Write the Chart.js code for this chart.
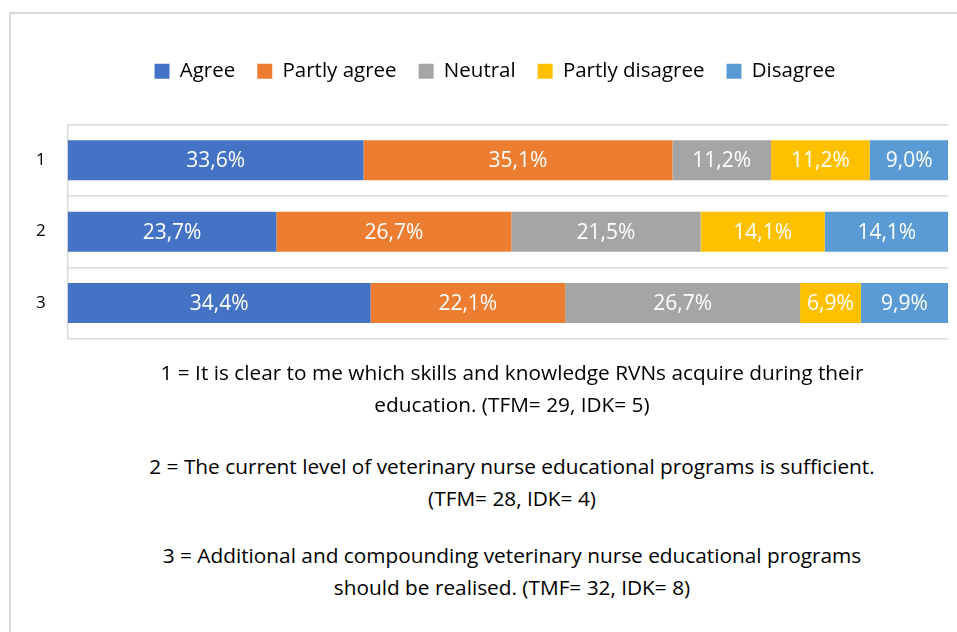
<!DOCTYPE html>
<html>
<head>
<meta charset="utf-8">
<script src="https://cdn.jsdelivr.net/npm/chart.js@4"></script>
<style>
  html, body { margin:0; padding:0; width:957px; height:632px; overflow:hidden; background:#fff; }
  .frame { position:absolute; left:9px; top:12px; width:1000px; height:700px; border:2px solid #D9D9D9; box-sizing:border-box; }
  .chartBox { position:absolute; left:0; top:0; width:957px; height:371px; }
  .note { position:absolute; left:0; width:1024px; text-align:center; font-family:"Open Sans", "Liberation Sans", sans-serif; font-size:20.8px; line-height:32px; color:#000; }
</style>
</head>
<body>
<div class="frame"></div>
<div class="chartBox"><canvas id="chart"></canvas></div>
<div class="note" style="top:356px;">1 = It is clear to me which skills and knowledge RVNs acquire during their<br>education. (TFM= 29, IDK= 5)</div>
<div class="note" style="top:450px;">2 = The current level of veterinary nurse educational programs is sufficient.<br>(TFM= 28, IDK= 4)</div>
<div class="note" style="top:539px;">3 = Additional and compounding veterinary nurse educational programs<br>should be realised. (TMF= 32, IDK= 8)</div>
<script>
// —————— DATA ——————
const categories = ['1', '2', '3'];
const agree          = [33.6, 23.7, 34.4];
const partlyAgree    = [35.1, 26.7, 22.1];
const neutral        = [11.2, 21.5, 26.7];
const partlyDisagree = [11.2, 14.1, 6.9];
const disagree       = [9.0, 14.1, 9.9];

const FONT = '"Open Sans", "Liberation Sans", sans-serif';

function fmt(v) {
  return v.toFixed(1).replace('.', ',') + '%';
}

// —————— PLUGINS ——————
const segmentLabels = {
  id: 'segmentLabels',
  afterDatasetsDraw(chart) {
    const ctx = chart.ctx;
    ctx.save();
    ctx.fillStyle = '#fff';
    ctx.font = '21px ' + FONT;
    ctx.textAlign = 'center';
    ctx.textBaseline = 'middle';
    chart.data.datasets.forEach((ds, i) => {
      chart.getDatasetMeta(i).data.forEach((bar, j) => {
        const cx = (bar.x + bar.base) / 2;
        ctx.fillText(fmt(ds.data[j]), cx, bar.y + 1);
      });
    });
    ctx.restore();
  }
};

// extra room under the legend, and nudge it right like the original
const legendGap = {
  id: 'legendGap',
  beforeInit(chart) {
    const fit = chart.legend.fit;
    chart.legend.fit = function () {
      fit.bind(chart.legend)();
      this.height += 33;
    };
  },
  afterLayout(chart) {
    chart.legend.left += 14;
    chart.legend.right += 14;
  }
};

// —————— CHART ——————
new Chart(document.getElementById('chart'), {
  type: 'bar',
  data: {
    labels: categories,
    datasets: [
      { label:'Agree',           data: agree,          backgroundColor:'#4472C4' },
      { label:'Partly agree',    data: partlyAgree,    backgroundColor:'#ED7D31' },
      { label:'Neutral',         data: neutral,        backgroundColor:'#A5A5A5' },
      { label:'Partly disagree', data: partlyDisagree, backgroundColor:'#FFC000' },
      { label:'Disagree',        data: disagree,       backgroundColor:'#5B9BD5' }
    ]
  },
  options: {
    indexAxis: 'y',
    responsive: true,
    maintainAspectRatio: false,
    animation: false,
    layout: { padding: { left: 14, right: 9, top: 39, bottom: 8 } },
    datasets: { bar: { categoryPercentage: 1, barPercentage: 0.56 } },
    scales: {
      x: { stacked:true, min:0, max:100, display:false },
      y: {
        stacked: true,
        grid: { color:'#D9D9D9', lineWidth:1.5, drawTicks:false, offset:true },
        border: { color:'#D9D9D9', width:1.5 },
        ticks: { color:'#000', padding:22, font:{ family:FONT, size:17 } }
      }
    },
    plugins: {
      tooltip: { enabled:false },
      legend: {
        position: 'top',
        labels: {
          color: '#000',
          boxWidth: 15,
          boxHeight: 15,
          padding: 22,
          font: { family:FONT, size:20.5 }
        }
      }
    }
  },
  plugins: [segmentLabels, legendGap]
});
</script>
</body>
</html>
